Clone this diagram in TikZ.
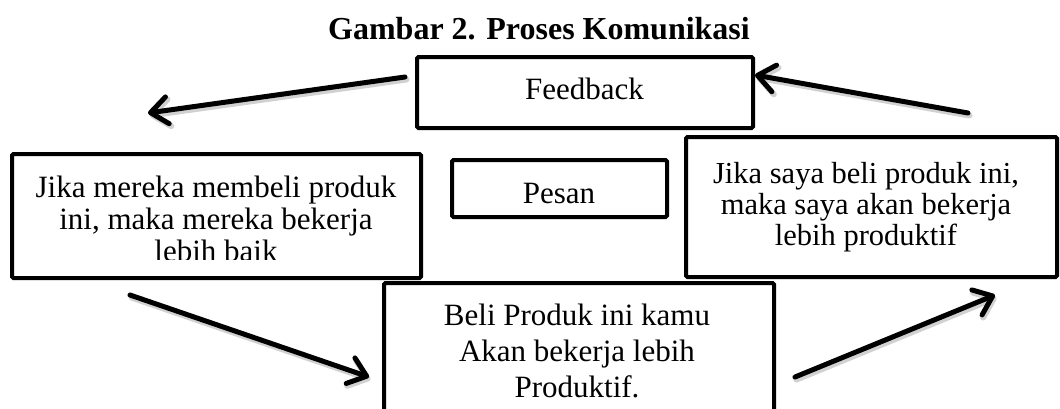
\documentclass[tikz,border=0pt]{standalone}
\usepackage{fontspec}
\setmainfont{Liberation Serif}
\usetikzlibrary{arrows.meta}
\tikzset{
  box/.style={draw=black, line width=4pt, rounded corners=1.5pt, inner sep=0pt},
  txt/.style={inner sep=0pt, anchor=base, font=\fontsize{31}{32}\selectfont},
  tip/.style={-{Straight Barb[length=17pt,width=27pt,line cap=round,line join=round]}},
  arr/.style={line width=5pt, line cap=round, tip},
  shadow/.style={line width=6pt, line cap=round, draw=black!18, tip,
    transform canvas={shift={(1.5pt,-2.5pt)}}},
}
\newcommand{\lines}[1]{\begin{tabular}[t]{@{}c@{}}#1\end{tabular}}
\begin{document}
\begin{tikzpicture}[x=1pt,y=-1pt]
\clip (0,0) rectangle (1060,408);
\useasboundingbox (0,0) rectangle (1060,408);
% title
\node[txt, font=\fontsize{32}{32}\selectfont\bfseries] (title) at (539,39) {Gambar 2. Proses Komunikasi};
% arrow end points
\coordinate (a1s) at (405,77);
\coordinate (a1e) at (148,113);
\coordinate (a2s) at (968,113);
\coordinate (a2e) at (755,75);
\coordinate (a3s) at (130,295);
\coordinate (a3e) at (369,377);
\coordinate (a4s) at (795,377);
\coordinate (a4e) at (995,295);
\draw[shadow] (a1s) -- (a1e);
\draw[shadow] (a2s) -- (a2e);
\draw[shadow] (a3s) -- (a3e);
\draw[shadow] (a4s) -- (a4e);
% boxes
\node[box, minimum width=336pt, minimum height=71pt] (fb) at (585,92.5) {};
\node[box, minimum width=409pt, minimum height=124pt] (left) at (216.5,216) {};
\node[box, minimum width=215pt, minimum height=57pt] (pesan) at (559.5,188.5) {};
\node[box, minimum width=371pt, minimum height=140pt] (right) at (871.5,207) {};
\node[box, minimum width=390pt, minimum height=150pt] (bottom) at (579,358) {};
% texts
\node[txt] (fbT) at (584.5,99) {Feedback};
\node[txt] (pesanT) at (559,203) {Pesan};
\begin{scope}
\clip (16,158) rectangle (417,259);
\node[txt] (leftT) at (216,197) {\lines{Jika mereka membeli produk\\ini, maka mereka bekerja\\lebih baik}};
\end{scope}
\node[txt, font=\fontsize{30.5}{31}\selectfont] (rightT) at (866,183) {\lines{Jika saya beli produk ini,\\maka saya akan bekerja\\lebih produktif}};
\node[txt, font=\fontsize{31}{36}\selectfont] (bottomT) at (577,325) {\lines{Beli Produk ini kamu\\Akan bekerja lebih\\Produktif.}};
% arrows
\draw[arr] (a1s) -- (a1e);
\draw[arr] (a2s) -- (a2e);
\draw[arr] (a3s) -- (a3e);
\draw[arr] (a4s) -- (a4e);
\end{tikzpicture}
\end{document}
